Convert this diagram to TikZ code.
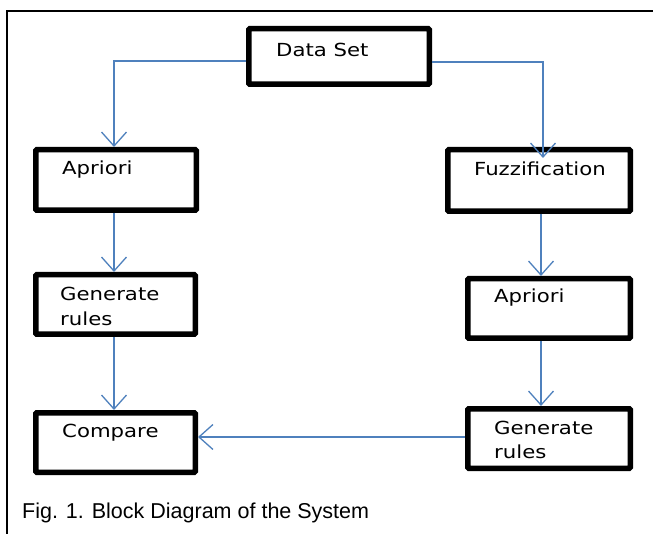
\documentclass[tikz,border=0pt]{standalone}
\usepackage{fontspec}
\usepackage{graphicx}
\usetikzlibrary{arrows.meta,calc}
\newfontfamily\boxfont{DejaVu Sans}
\newfontfamily\capfont{Liberation Sans}
\definecolor{arrowblue}{HTML}{4F81BD}
\newcommand\wtext[1]{\scalebox{1.18}[1]{#1}}
\newcommand\twolines[2]{\vtop{\baselineskip=24.5pt\hbox{\wtext{#1}}\hbox{\wtext{#2}}}}
\begin{document}
\begin{tikzpicture}[x=1pt,y=-1pt,
  blk/.style={draw=black, line width=5.5pt, rectangle, rounded corners=1pt, inner sep=0pt, fill=white},
  lbl/.style={anchor=base west, inner sep=0pt, font=\boxfont\fontsize{18}{24}\selectfont},
  arr/.style={draw=arrowblue, line width=1.3pt, -{Straight Barb[length=14pt,width=25pt]}},
]
\useasboundingbox (0,0) rectangle (653,534);
\fill[white] (0,0) rectangle (653,534);
\draw[line width=2pt] (7,534) -- (7,11) -- (653,11);

% boxes
\node[blk, minimum width=180.5pt, minimum height=55.5pt] (DS) at (339,56.5) {};
\node[blk, minimum width=160.5pt, minimum height=60.5pt] (AL) at (116,180) {};
\node[blk, minimum width=159.5pt, minimum height=59.5pt] (GL) at (115.5,304.5) {};
\node[blk, minimum width=159.5pt, minimum height=59.5pt] (CL) at (115.5,442.5) {};
\node[blk, minimum width=182.5pt, minimum height=61.5pt] (FR) at (539,180.5) {};
\node[blk, minimum width=162.5pt, minimum height=59.5pt] (AR) at (549,308.5) {};
\node[blk, minimum width=162.5pt, minimum height=59.5pt] (GR) at (549,438.5) {};

% texts
\node[lbl] (tDS) at ([xshift=30pt,yshift=-31pt]DS.north west) {\wtext{Data Set}};
\node[lbl] (tAL) at ([xshift=29pt,yshift=-28pt]AL.north west) {\wtext{Apriori}};
\node[lbl] (tGL) at ([xshift=27pt,yshift=-29pt]GL.north west) {\twolines{Generate}{rules}};
\node[lbl] (tCL) at ([xshift=29pt,yshift=-27pt]CL.north west) {\wtext{Compare}};
\node[lbl] (tFR) at ([xshift=29pt,yshift=-29pt]FR.north west) {\wtext{Fuzzification}};
\node[lbl] (tAR) at ([xshift=29pt,yshift=-27pt]AR.north west) {\wtext{Apriori}};
\node[lbl] (tGR) at ([xshift=29pt,yshift=-28pt]GR.north west) {\twolines{Generate}{rules}};

% caption
\node[anchor=base west, inner sep=0pt, font=\capfont\fontsize{21.5}{26}\selectfont] (cap) at (22,518) {Fig. 1. Block Diagram of the System};

% connectors
\draw[arr] ([yshift=-4.5pt]DS.west) -| ([xshift=-2pt]AL.north);
\draw[arr] ([yshift=-5.5pt]DS.east) -| ([xshift=4pt,yshift=-11pt]FR.north);
\draw[arr] ([xshift=-2pt]AL.south) -- ([xshift=-2pt]AL.south |- GL.north);
\draw[arr] ([xshift=-1.5pt]GL.south) -- ([xshift=-1.5pt]GL.south |- CL.north);
\draw[arr] ([xshift=2pt]FR.south) -- ([xshift=2pt]FR.south |- AR.north);
\draw[arr] ([xshift=-8pt]AR.south) -- ([xshift=-8pt]AR.south |- GR.north);
\draw[arr] ([yshift=1.5pt]GR.west) -- ([yshift=1.5pt]GR.west -| CL.east);
\end{tikzpicture}
\end{document}
